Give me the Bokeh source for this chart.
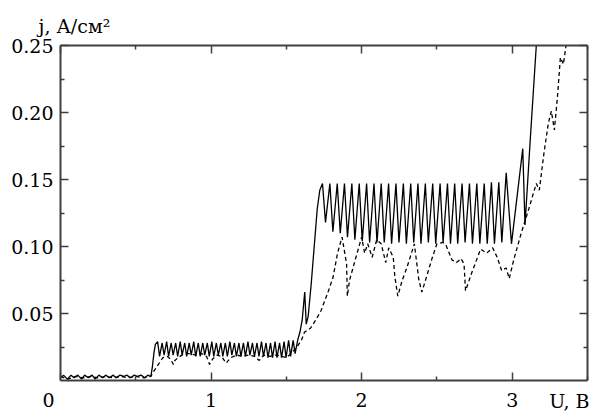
from bokeh.plotting import figure
from bokeh.models import LinearAxis, FixedTicker, PrintfTickFormatter, Range1d, Title
from bokeh.embed import file_html
from bokeh.resources import INLINE

# ---------------- data ----------------
solid_x = [0.000, 0.020, 0.045, 0.070, 0.090, 0.115, 0.140, 0.160, 0.185, 0.210, 0.230, 0.255,
           0.280, 0.300, 0.325, 0.350, 0.370, 0.395, 0.420, 0.440, 0.465, 0.490, 0.510, 0.535,
           0.560, 0.580, 0.600, 0.610, 0.620, 0.630,
           0.645, 0.658, 0.675, 0.688, 0.705, 0.718, 0.735, 0.748, 0.765, 0.778, 0.795, 0.808,
           0.825, 0.838, 0.855, 0.868, 0.885, 0.898, 0.915, 0.928, 0.945, 0.958, 0.975, 0.988,
           1.005, 1.018, 1.035, 1.048, 1.065, 1.078, 1.095, 1.108, 1.125, 1.138, 1.155, 1.168,
           1.185, 1.198, 1.215, 1.228, 1.245, 1.258, 1.275, 1.288, 1.305, 1.318, 1.335, 1.348,
           1.365, 1.378, 1.395, 1.408, 1.425, 1.438, 1.455, 1.468, 1.485, 1.498, 1.515, 1.528,
           1.545, 1.558,
           1.575, 1.590, 1.605, 1.622, 1.632, 1.645, 1.665, 1.685, 1.705, 1.722, 1.740,
           1.760, 1.789, 1.809, 1.838, 1.858, 1.886, 1.906, 1.935, 1.955, 1.984, 2.004,
           2.033, 2.053, 2.082, 2.102, 2.130, 2.150, 2.179, 2.199, 2.228, 2.248, 2.277, 2.297,
           2.326, 2.346, 2.374, 2.394, 2.423, 2.443, 2.472, 2.492, 2.521, 2.541, 2.570, 2.590,
           2.618, 2.638, 2.667, 2.687, 2.716, 2.736, 2.765, 2.785, 2.814, 2.834, 2.862, 2.882,
           2.911, 2.931, 2.960, 2.995, 3.070, 3.085, 3.120, 3.160, 3.180]
solid_y = [0.002, 0.004, 0.001, 0.004, 0.002, 0.004, 0.001, 0.004, 0.002, 0.004, 0.001, 0.004,
           0.002, 0.004, 0.002, 0.004, 0.002, 0.004, 0.003, 0.004, 0.002, 0.004, 0.003, 0.004,
           0.002, 0.004, 0.003, 0.010, 0.020, 0.027,
           0.029, 0.018, 0.028, 0.019, 0.029, 0.018, 0.028, 0.019, 0.028, 0.018, 0.029, 0.019,
           0.028, 0.018, 0.028, 0.019, 0.029, 0.018, 0.028, 0.018, 0.028, 0.019, 0.028, 0.018,
           0.029, 0.018, 0.028, 0.019, 0.028, 0.018, 0.028, 0.018, 0.029, 0.019, 0.028, 0.018,
           0.028, 0.018, 0.028, 0.018, 0.029, 0.019, 0.028, 0.018, 0.028, 0.018, 0.029, 0.018,
           0.028, 0.017, 0.028, 0.017, 0.029, 0.017, 0.028, 0.017, 0.029, 0.017, 0.030, 0.018,
           0.030, 0.020,
           0.030, 0.036, 0.045, 0.066, 0.042, 0.048, 0.072, 0.100, 0.128, 0.142, 0.147,
           0.118, 0.147, 0.111, 0.147, 0.110, 0.147, 0.107, 0.147, 0.105, 0.147, 0.104,
           0.147, 0.103, 0.147, 0.103, 0.147, 0.103, 0.147, 0.102, 0.147, 0.103, 0.147, 0.102,
           0.147, 0.103, 0.147, 0.102, 0.147, 0.103, 0.147, 0.102, 0.147, 0.103, 0.147, 0.102,
           0.147, 0.102, 0.147, 0.103, 0.147, 0.102, 0.147, 0.102, 0.147, 0.102, 0.148, 0.102,
           0.148, 0.103, 0.155, 0.102, 0.173, 0.116, 0.180, 0.250, 0.285]

dashed_x = [0.00, 0.05, 0.10, 0.15, 0.20, 0.25, 0.30, 0.35, 0.40, 0.45, 0.50, 0.55, 0.60,
            0.62, 0.65, 0.68, 0.71, 0.73, 0.75, 0.76, 0.78, 0.82, 0.86, 0.90, 0.94, 0.97, 0.99,
            1.01, 1.04, 1.07, 1.10, 1.13, 1.17, 1.21, 1.25, 1.29, 1.32, 1.35, 1.39, 1.43, 1.47,
            1.50, 1.53, 1.57, 1.60, 1.62, 1.66, 1.70, 1.73, 1.78, 1.81, 1.84, 1.87, 1.90, 1.905,
            1.92, 1.95, 2.00, 2.02, 2.04, 2.07, 2.10, 2.13, 2.16, 2.18, 2.21, 2.22, 2.24, 2.27,
            2.30, 2.35, 2.37, 2.38, 2.40, 2.43, 2.47, 2.50, 2.54, 2.56, 2.60, 2.63, 2.66, 2.68,
            2.69, 2.73, 2.77, 2.79, 2.83, 2.87, 2.90, 2.93, 2.96, 2.98, 3.01, 3.06, 3.11, 3.16,
            3.18, 3.21, 3.24, 3.26, 3.28, 3.30, 3.32, 3.34, 3.36, 3.38]
dashed_y = [0.003, 0.001, 0.003, 0.002, 0.003, 0.002, 0.003, 0.002, 0.003, 0.002, 0.003, 0.002, 0.003,
            0.007, 0.012, 0.017, 0.018, 0.016, 0.012, 0.015, 0.017, 0.020, 0.020, 0.019, 0.020, 0.018, 0.012,
            0.016, 0.019, 0.018, 0.013, 0.017, 0.019, 0.018, 0.019, 0.018, 0.015, 0.019, 0.018, 0.019, 0.018,
            0.017, 0.020, 0.025, 0.030, 0.036, 0.039, 0.046, 0.052, 0.067, 0.077, 0.095, 0.107, 0.087, 0.063,
            0.075, 0.087, 0.107, 0.095, 0.102, 0.092, 0.105, 0.102, 0.088, 0.099, 0.092, 0.078, 0.063, 0.075,
            0.084, 0.102, 0.084, 0.075, 0.066, 0.077, 0.092, 0.102, 0.103, 0.101, 0.090, 0.088, 0.091, 0.087,
            0.067, 0.080, 0.092, 0.098, 0.095, 0.099, 0.092, 0.082, 0.084, 0.076, 0.090, 0.110, 0.128, 0.147,
            0.142, 0.169, 0.192, 0.201, 0.187, 0.211, 0.241, 0.236, 0.252, 0.270]

x_major = [0, 1, 2, 3]
x_minor = [0.5, 1.5, 2.5, 3.5]
y_major = [0.05, 0.10, 0.15, 0.20, 0.25]
y_minor = [0.025, 0.075, 0.125, 0.175, 0.225]
x_title = "U, В"
y_title = "j, А/см²"
origin_label = "0"

FONT = "DejaVu Serif"
FS = "19px"
AXC = "#404040"
W, H = 591, 414
NB = "\u00a0"

p = figure(width=W, height=H, x_range=Range1d(0, 3.5), y_range=Range1d(0, 0.25),
           output_backend="svg", toolbar_location=None,
           min_border_left=60, min_border_right=4, min_border_top=45, min_border_bottom=34)
p.outline_line_color = None
p.xgrid.visible = False
p.ygrid.visible = False
p.background_fill_color = "white"
p.border_fill_color = "white"

def style(ax):
    ax.axis_line_color = AXC
    ax.axis_line_width = 2
    ax.major_tick_line_color = AXC
    ax.minor_tick_line_color = AXC
    ax.major_tick_line_width = 1.5
    ax.minor_tick_line_width = 1.5
    ax.major_tick_in = 8
    ax.major_tick_out = 0
    ax.minor_tick_in = 4
    ax.minor_tick_out = 0
    ax.major_label_text_font = FONT
    ax.major_label_text_font_size = FS
    ax.major_label_text_color = "black"

xa = p.xaxis[0]
xa.ticker = FixedTicker(ticks=x_major, minor_ticks=x_minor)
# the origin "0" sits left of the corner: pad the centred label on its right
xa.major_label_overrides = {0: origin_label + NB * 4}
style(xa)
xa.major_label_standoff = 8

ya = p.yaxis[0]
ya.ticker = FixedTicker(ticks=y_major, minor_ticks=y_minor)
ya.formatter = PrintfTickFormatter(format="%.2f")
style(ya)
ya.major_label_standoff = 7

top = LinearAxis(ticker=FixedTicker(ticks=x_major, minor_ticks=x_minor))
style(top)
top.major_label_overrides = {t: "" for t in x_major}
top.major_label_standoff = 0
p.add_layout(top, "above")
right = LinearAxis(ticker=FixedTicker(ticks=y_major, minor_ticks=y_minor))
style(right)
right.major_label_overrides = {t: "" for t in y_major}
right.major_label_standoff = 0
p.add_layout(right, "right")

p.line(dashed_x, dashed_y, line_color="black", line_width=1.3, line_dash="4 3")
p.line(solid_x, solid_y, line_color="black", line_width=1.3)

# y title: above the frame, starting left of the axis line
p.add_layout(Title(text=y_title, align="left", offset=-22, standoff=17, text_font=FONT,
                   text_font_size=FS, text_font_style="normal", text_color="black"), "above")

# x title: on the tick-label row at the right end of the axis; the label is centred
# on the axis end, so pad it on the right to bring the visible text inside the page
xa.axis_label = x_title + NB * 6
xa.axis_label_align = "end"
xa.axis_label_standoff = -24
xa.axis_label_text_font = FONT
xa.axis_label_text_font_size = FS
xa.axis_label_text_font_style = "normal"
xa.axis_label_text_color = "black"

open("out.html", "w").write(file_html(p, INLINE))
